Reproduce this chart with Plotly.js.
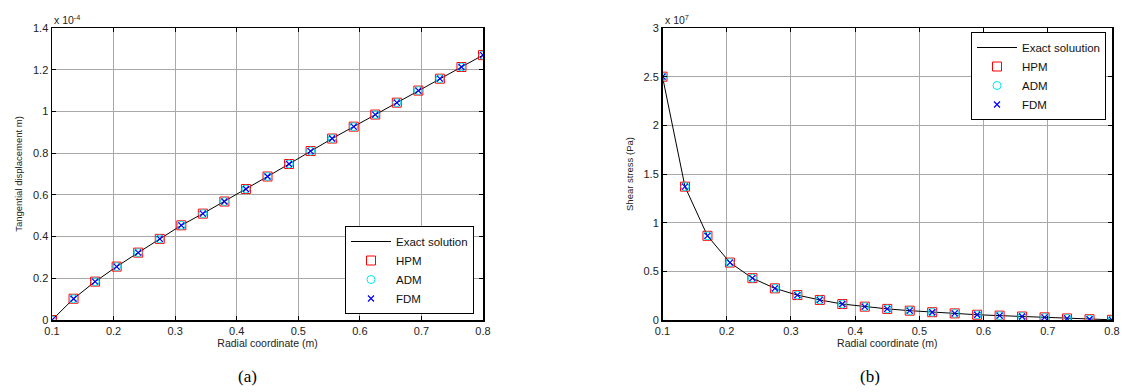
<!DOCTYPE html>
<html>
<head>
<meta charset="utf-8">
<script src="https://cdn.plot.ly/plotly-3.0.1.min.js"></script>
<style>html,body{margin:0;padding:0;background:#fff;}#chart{width:1122px;height:392px;}</style>
</head>
<body>
<div id="chart"></div>
<script>
// Radial coordinate (m)
const radius = [0.1, 0.135, 0.17, 0.205, 0.24, 0.275, 0.31, 0.345, 0.38, 0.415, 0.45,
                0.485, 0.52, 0.555, 0.59, 0.625, 0.66, 0.695, 0.73, 0.765, 0.8];
// (a) Tangential displacement, units of 1e-4 m
const displacement = [0, 0.102, 0.184, 0.256, 0.323, 0.389, 0.454, 0.51, 0.568, 0.628, 0.688,
                      0.748, 0.81, 0.87, 0.927, 0.985, 1.042, 1.1, 1.157, 1.213, 1.27];
// (b) Shear stress, units of 1e7 Pa
const shear = [2.5, 1.37, 0.865, 0.59, 0.43, 0.325, 0.256, 0.206, 0.164, 0.137, 0.114,
               0.096, 0.08, 0.068, 0.054, 0.045, 0.036, 0.027, 0.016, 0.008, 0.002];
const xTicks = [0.1, 0.2, 0.3, 0.4, 0.5, 0.6, 0.7, 0.8];
const xTickText = ['0.1', '0.2', '0.3', '0.4', '0.5', '0.6', '0.7', '0.8'];
const yTicksA = [0, 0.2, 0.4, 0.6, 0.8, 1, 1.2, 1.4];
const yTickTextA = ['0', '0.2', '0.4', '0.6', '0.8', '1', '1.2', '1.4'];
const yTicksB = [0, 0.5, 1, 1.5, 2, 2.5, 3];
const yTickTextB = ['0', '0.5', '1', '1.5', '2', '2.5', '3'];

const font = 'Liberation Sans, Arial, sans-serif';

function series(y, xa, ya, leg, names) {
  return [
    {x: radius, y: y, xaxis: xa, yaxis: ya, legend: leg, name: names[0], mode: 'lines',
     line: {color: '#000', width: 1}},
    {x: radius, y: y, xaxis: xa, yaxis: ya, legend: leg, name: 'HPM', mode: 'markers',
     marker: {symbol: 'square-open', size: 9, color: '#ff0000', line: {width: 1}}},
    {x: radius, y: y, xaxis: xa, yaxis: ya, legend: leg, name: 'ADM', mode: 'markers',
     marker: {symbol: 'circle-open', size: 8, color: '#00e5ee', line: {width: 1}}},
    {x: radius, y: y, xaxis: xa, yaxis: ya, legend: leg, name: 'FDM', mode: 'markers',
     marker: {symbol: 'x-thin-open', size: 6, color: '#0000ff', line: {width: 1.2}}}
  ];
}

const data = series(displacement, 'x', 'y', 'legend', ['Exact solution'])
  .concat(series(shear, 'x2', 'y2', 'legend2', ['Exact soluution']));

function xaxis(domain, anchor) {
  return {
    domain: domain, anchor: anchor, range: [0.1, 0.8], tickvals: xTicks, ticktext: xTickText,
    ticks: 'inside', ticklen: 4, tickcolor: '#000', showline: true, linecolor: '#000', linewidth: 1.5,
    mirror: 'ticks', showgrid: true, gridcolor: '#a8a8a8', gridwidth: 1, zeroline: false,
    tickfont: {family: font, size: 11, color: '#222'},
    title: {text: 'Radial coordinate (m)', font: {family: font, size: 10.5, color: '#222'}, standoff: 2}
  };
}
function yaxis(domain, anchor, range, tv, tt, title) {
  return {
    domain: domain, anchor: anchor, range: range, tickvals: tv, ticktext: tt,
    ticks: 'inside', ticklen: 4, tickcolor: '#000', showline: true, linecolor: '#000', linewidth: 1.5,
    mirror: 'ticks', showgrid: true, gridcolor: '#a8a8a8', gridwidth: 1, zeroline: false,
    tickfont: {family: font, size: 11, color: '#222'},
    title: {text: title, font: {family: font, size: 9.5, color: '#222'}, standoff: 8}
  };
}

const yDom = [1 - 320 / 392, 1 - 28 / 392];
const layout = {
  width: 1122, height: 392,
  margin: {l: 0, r: 0, t: 0, b: 0},
  paper_bgcolor: '#fff', plot_bgcolor: '#fff',
  showlegend: true,
  xaxis: xaxis([52 / 1122, 483 / 1122], 'y'),
  yaxis: yaxis(yDom, 'x', [0, 1.4], yTicksA, yTickTextA, 'Tangential displacement m)'),
  xaxis2: xaxis([662.5 / 1122, 1112 / 1122], 'y2'),
  yaxis2: yaxis(yDom, 'x2', [0, 3], yTicksB, yTickTextB, 'Shear stress (Pa)'),
  legend: {
    x: 474 / 1122, y: 1 - 314 / 392, xanchor: 'right', yanchor: 'bottom',
    bgcolor: '#fff', bordercolor: '#000', borderwidth: 1,
    font: {family: font, size: 11.5, color: '#111'}, tracegroupgap: 0, itemwidth: 40
  },
  legend2: {
    x: 1106 / 1122, y: 1 - 32 / 392, xanchor: 'right', yanchor: 'top',
    bgcolor: '#fff', bordercolor: '#000', borderwidth: 1,
    font: {family: font, size: 11.5, color: '#111'}, tracegroupgap: 0, itemwidth: 40
  },
  annotations: [
    {xref: 'paper', yref: 'paper', x: 52 / 1122, y: 1 - 28 / 392, xanchor: 'left', yanchor: 'bottom',
     text: 'x 10<sup>-4</sup>', showarrow: false, font: {family: font, size: 10.5, color: '#222'}},
    {xref: 'paper', yref: 'paper', x: 662.5 / 1122, y: 1 - 28 / 392, xanchor: 'left', yanchor: 'bottom',
     text: 'x 10<sup>7</sup>', showarrow: false, font: {family: font, size: 10.5, color: '#222'}},
    {xref: 'paper', yref: 'paper', x: 247 / 1122, y: 1 - 376 / 392, xanchor: 'center', yanchor: 'middle',
     text: '(a)', showarrow: false, font: {family: 'Liberation Serif, Times New Roman, serif', size: 17, color: '#000'}},
    {xref: 'paper', yref: 'paper', x: 870 / 1122, y: 1 - 376 / 392, xanchor: 'center', yanchor: 'middle',
     text: '(b)', showarrow: false, font: {family: 'Liberation Serif, Times New Roman, serif', size: 17, color: '#000'}}
  ]
};

Plotly.newPlot('chart', data, layout, {displayModeBar: false, staticPlot: true});
</script>
</body>
</html>
